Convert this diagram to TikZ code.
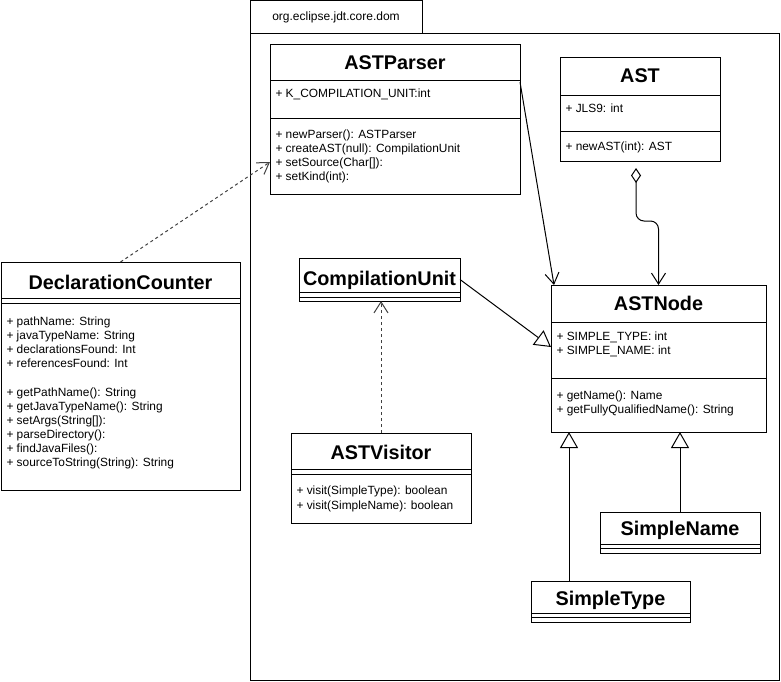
\documentclass[tikz,border=0pt]{standalone}
\usepackage{fontspec}
\setmainfont{Liberation Sans}
\usetikzlibrary{arrows.meta}
\begin{document}
\begin{tikzpicture}[x=1pt,y=-1pt,line width=1pt,
  box/.style={draw,anchor=north west,inner sep=0pt,outer sep=0pt},
  ttl/.style={font=\fontsize{19.8}{20}\selectfont\bfseries,inner sep=0pt},
  txt/.style={font=\fontsize{11.9}{13}\selectfont,inner sep=0pt,anchor=west,text height=8.5pt,text depth=2.5pt},
  assoc/.style={-{Straight Barb[length=11pt,width=14pt]}},
  gen/.style={-{Triangle[open,length=16pt,width=18pt,fill=white]}},
  dep/.style={dash pattern=on 3pt off 3pt,draw=black!75,-{Straight Barb[length=11pt,width=14pt]}},
  agg/.style={{Diamond[open,length=15pt,width=10pt]}-{Straight Barb[length=11pt,width=14pt]}}
]
\useasboundingbox (0,0) rectangle (781,681);
% package
\node[box,minimum width=172pt,minimum height=33pt] (pkgtab) at (250,0.5) {};
\node[font=\fontsize{12}{14}\selectfont,inner sep=0pt] (pkglabel) at (pkgtab.center) {org.eclipse.jdt.core.dom};
\node[box,minimum width=529pt,minimum height=647pt] (pkg) at (250,33) {};

% ASTParser
\node[box,minimum width=250pt,minimum height=150pt] (parser) at (270,44) {};
\node[ttl] (parsert) at (395,63) {ASTParser};
\draw (270,80) -- (520,80);
\draw (270,118) -- (520,118);
\node[txt] (pa1) at (275,94) {+ K\_COMPILATION\_UNIT:int};
\node[txt] (pm1) at (275,135) {+ newParser(): ASTParser};
\node[txt] (pm2) at (275,149) {+ createAST(null): CompilationUnit};
\node[txt] (pm3) at (275,163) {+ setSource(Char[]):};
\node[txt] (pm4) at (275,177) {+ setKind(int):};

% AST
\node[box,minimum width=160pt,minimum height=104pt] (ast) at (560,57) {};
\node[ttl] (astt) at (640,76) {AST};
\draw (560,95) -- (720,95);
\node[txt] (aa1) at (565,109) {+ JLS9: int};
\draw (560,131) -- (720,131);
\node[txt] (am1) at (565,147) {+ newAST(int): AST};

% ASTNode
\node[box,minimum width=215pt,minimum height=147pt] (astnode) at (551,285) {};
\node[ttl] (astnodet) at (658.5,303) {ASTNode};
\draw (551,322) -- (766,322);
\node[txt] (na1) at (556,337) {+ SIMPLE\_TYPE: int};
\node[txt] (na2) at (556,351) {+ SIMPLE\_NAME: int};
\draw (551,378) -- (766,378);
\node[txt] (nm1) at (556,396) {+ getName(): Name};
\node[txt] (nm2) at (556,410) {+ getFullyQualifiedName(): String};

% DeclarationCounter
\node[box,minimum width=239pt,minimum height=228pt] (dc) at (1,262) {};
\node[ttl] (dct) at (120.5,282) {DeclarationCounter};
\draw (1,298) -- (240,298);
\draw (1,303) -- (240,303);
\node[txt] (da1) at (6,322) {+ pathName: String};
\node[txt] (da2) at (6,336) {+ javaTypeName: String};
\node[txt] (da3) at (6,350) {+ declarationsFound: Int};
\node[txt] (da4) at (6,364) {+ referencesFound: Int};
\node[txt] (dm1) at (6,393) {+ getPathName(): String};
\node[txt] (dm2) at (6,407) {+ getJavaTypeName(): String};
\node[txt] (dm3) at (6,421) {+ setArgs(String[]):};
\node[txt] (dm4) at (6,435) {+ parseDirectory():};
\node[txt] (dm5) at (6,449) {+ findJavaFiles():};
\node[txt] (dm6) at (6,463) {+ sourceToString(String): String};

% CompilationUnit
\node[box,minimum width=161pt,minimum height=43pt] (cu) at (299,258) {};
\node[ttl] (cut) at (379.5,280) {CompilationUnit};
\draw (299,292) -- (460,292);
\draw (299,297) -- (460,297);

% ASTVisitor
\node[box,minimum width=180pt,minimum height=90pt] (vis) at (291,433) {};
\node[ttl] (vist) at (381,452) {ASTVisitor};
\draw (291,469) -- (471,469);
\draw (291,474) -- (471,474);
\node[txt] (vm1) at (296,491) {+ visit(SimpleType): boolean};
\node[txt] (vm2) at (296,506) {+ visit(SimpleName): boolean};

% SimpleName
\node[box,minimum width=160pt,minimum height=41pt] (sn) at (600,512) {};
\node[ttl] (snt) at (680,530) {SimpleName};
\draw (600,544) -- (760,544);
\draw (600,548) -- (760,548);

% SimpleType
\node[box,minimum width=159pt,minimum height=41pt] (st) at (531,581) {};
\node[ttl] (stt) at (610.5,600) {SimpleType};
\draw (531,613) -- (690,613);
\draw (531,617) -- (690,617);

% connectors
\draw[dep] (dc.north) -- ([yshift=32pt]parser.south west);
\draw[assoc] ([yshift=-38pt]parser.north east) -- ([xshift=3pt]astnode.north west);
\draw[agg,rounded corners=8pt] ([xshift=-4pt,yshift=-7pt]ast.south) -- ++(0,53) -| (astnode.north);
\draw[gen] (cu.east) -- ([yshift=11.5pt]astnode.west);
\draw[dep] (vis.north) -- (vis.north |- cu.south);
\draw[gen] ([xshift=38pt]st.north west) -- ([xshift=38pt]st.north west |- astnode.south);
\draw[gen] (sn.north) -- (sn.north |- astnode.south);
\end{tikzpicture}
\end{document}
